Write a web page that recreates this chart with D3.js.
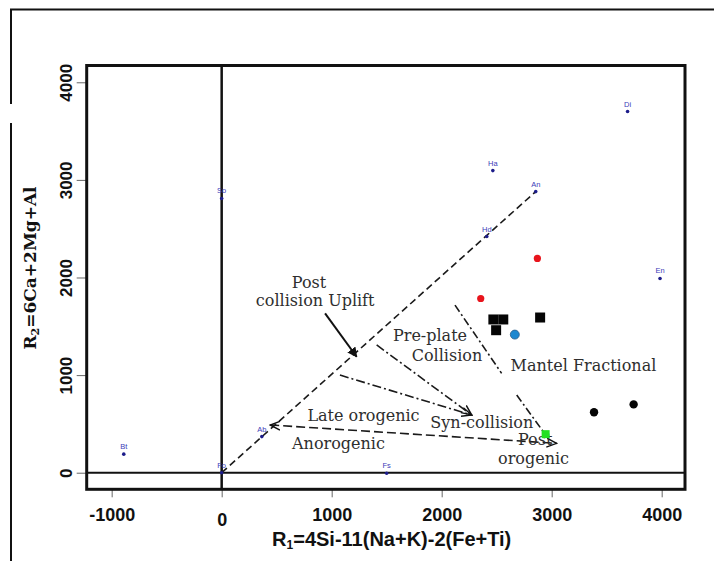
<!DOCTYPE html>
<html><head><meta charset="utf-8">
<script src="https://cdn.jsdelivr.net/npm/d3@7/dist/d3.min.js"></script>
<style>body{margin:0;background:#fff}svg{display:block}</style>
</head><body>
<svg id="chart" width="714" height="561"></svg>
<script>
// ---- data ----
const xTicks = [-1000, 0, 1000, 2000, 3000, 4000];
const yTicks = [0, 1000, 2000, 3000, 4000];

const minerals   = ["Di", "Ha", "An", "Hd", "En", "So", "Ab", "Bt", "Fo", "Fs"];
const mineralR1  = [3690, 2465, 2855, 2410, 3985, 0, 365, -890, 0, 1500];
const mineralR2  = [3700, 3095, 2880, 2420, 1990, 2810, 370, 190, 0, -5];

const redR1 = [2870, 2355];
const redR2 = [2195, 1785];
const squareR1 = [2470, 2560, 2495, 2895];
const squareR2 = [1570, 1570, 1460, 1590];
const blueR1 = [2665];
const blueR2 = [1415];
const blackR1 = [3385, 3745];
const blackR2 = [620, 700];
const greenR1 = [2945];
const greenR2 = [395];

// boundary lines [R1,R2] pairs
const lineUplift   = [[0, 0], [2855, 2880]];
const lineLateTop  = [[1075, 1000], [2273, 591]];
const linePreLow   = [[1409, 1309], [2273, 591]];
const lineAnoro    = [[441, 489], [3045, 301]];
const lineMantleA  = [[2121, 1717], [2545, 1018]];
const lineMantleB  = [[2682, 796], [2966, 355]];
const arrowUplift  = [[940, 1633], [1227, 1188]];

const fieldNames = ["Post", "collision Uplift", "Pre-plate", "Collision", "Mantel Fractional",
                    "Late orogenic", "Syn-collision", "Anorogenic", "Post", "orogenic"];
const fieldR1 = [794, 850, 1894, 2048, 3289, 1289, 2365, 1062, 2850, 2835];
const fieldR2 = [1890, 1705, 1349, 1145, 1042, 530, 462, 243, 283, 85];

// ---- chart ----
const svg = d3.select("#chart");
const L = 86.7, R = 685, T = 65.5, B = 489.3;
const x = d3.scaleLinear().domain([-1227, 4212]).range([L, R]);
const y = d3.scaleLinear().domain([-170, 4172]).range([B, T]);

// outer frame fragments
svg.append("line").attr("x1", 10).attr("x2", 714).attr("y1", 9.5).attr("y2", 9.5)
   .attr("stroke", "#111").attr("stroke-width", 2);
svg.append("line").attr("x1", 11).attr("x2", 11).attr("y1", 9).attr("y2", 104)
   .attr("stroke", "#111").attr("stroke-width", 2);
svg.append("line").attr("x1", 11).attr("x2", 11).attr("y1", 123).attr("y2", 561)
   .attr("stroke", "#111").attr("stroke-width", 2);

const defs = svg.append("defs");
defs.append("marker").attr("id", "open").attr("viewBox", "0 0 10 10")
  .attr("refX", 9).attr("refY", 5).attr("markerWidth", 7).attr("markerHeight", 7)
  .attr("orient", "auto-start-reverse")
  .append("path").attr("d", "M0,1 L9,5 L0,9").attr("fill", "none").attr("stroke", "#111").attr("stroke-width", 1.3);
defs.append("marker").attr("id", "solid").attr("viewBox", "0 0 10 10")
  .attr("refX", 9).attr("refY", 5).attr("markerWidth", 5).attr("markerHeight", 5)
  .attr("orient", "auto")
  .append("path").attr("d", "M0,0 L10,5 L0,10 Z").attr("fill", "#111");

// axes
const xAxis = svg.append("g").attr("transform", `translate(0,${B})`)
  .call(d3.axisBottom(x).tickValues(xTicks).tickSize(8).tickPadding(11).tickFormat(d => String(d)));
xAxis.select(".domain").remove();
xAxis.selectAll("line").attr("stroke", "#666").attr("stroke-width", 1);
xAxis.selectAll("text").attr("font-family", "Liberation Sans, Arial, sans-serif")
  .attr("font-weight", "bold").attr("font-size", 18).attr("fill", "#111")
  .attr("dy", d => d === 0 ? "1.0em" : "0.71em");

const yAxis = svg.append("g").attr("transform", `translate(${L},0)`)
  .call(d3.axisLeft(y).tickValues(yTicks).tickSize(10).tickPadding(4).tickFormat(d => String(d)));
yAxis.select(".domain").remove();
yAxis.selectAll("line").attr("stroke", "#666").attr("stroke-width", 1);
yAxis.selectAll("text").attr("font-family", "Liberation Sans, Arial, sans-serif")
  .attr("font-weight", "bold").attr("font-size", 17).attr("fill", "#111")
  .attr("text-anchor", "middle")
  .attr("transform", "translate(-21,0) rotate(-90)").attr("x", 0).attr("y", 0).attr("dy", "0.35em");

// zero lines
svg.append("line").attr("x1", x(0)).attr("x2", x(0)).attr("y1", T).attr("y2", B)
  .attr("stroke", "#111").attr("stroke-width", 2.5);
svg.append("line").attr("x1", L).attr("x2", R).attr("y1", y(0)).attr("y2", y(0))
  .attr("stroke", "#111").attr("stroke-width", 2);

// frame
svg.append("rect").attr("x", L).attr("y", T).attr("width", R - L).attr("height", B - T)
  .attr("fill", "none").attr("stroke", "#111").attr("stroke-width", 3);

// axis titles
const xt = svg.append("text").attr("x", (x(0) + x(4000)) / 2 - 50).attr("y", 546)
  .attr("text-anchor", "middle").attr("font-family", "Liberation Sans, Arial, sans-serif")
  .attr("font-weight", "bold").attr("font-size", 20).attr("fill", "#111");
xt.append("tspan").text("R");
xt.append("tspan").text("1").attr("font-size", 12).attr("dy", 3);
xt.append("tspan").text("=4Si-11(Na+K)-2(Fe+Ti)").attr("dy", -3);

const yt = svg.append("text").attr("transform", "translate(36,268) rotate(-90)")
  .attr("text-anchor", "middle").attr("font-family", "DejaVu Serif, serif")
  .attr("font-weight", "bold").attr("font-size", 17).attr("fill", "#111");
yt.append("tspan").text("R");
yt.append("tspan").text("2").attr("font-size", 11).attr("dy", 3);
yt.append("tspan").text("=6Ca+2Mg+Al").attr("dy", -3);

// boundary lines
const ln = d3.line().x(d => x(d[0])).y(d => y(d[1]));
function drawLine(pts, dash, ms, me) {
  const p = svg.append("path").attr("d", ln(pts)).attr("fill", "none")
    .attr("stroke", "#1a1a1a").attr("stroke-width", 1.6).attr("stroke-dasharray", dash);
  if (ms) p.attr("marker-start", ms);
  if (me) p.attr("marker-end", me);
}
drawLine(lineUplift, "7,4");
drawLine(lineLateTop, "9,3,2,3", null, "url(#open)");
drawLine(linePreLow, "9,3,2,3", null, "url(#open)");
drawLine(lineAnoro, "9,4", "url(#open)", "url(#open)");
drawLine(lineMantleA, "8,3,2,3");
drawLine(lineMantleB, "8,3,2,3");

svg.append("path").attr("d", ln(arrowUplift)).attr("fill", "none")
  .attr("stroke", "#111").attr("stroke-width", 2).attr("marker-end", "url(#solid)");

// field labels
svg.append("g").selectAll("text").data(fieldNames).join("text")
  .attr("x", (d, i) => x(fieldR1[i])).attr("y", (d, i) => y(fieldR2[i]))
  .attr("text-anchor", "middle").attr("font-family", "DejaVu Serif, serif")
  .attr("font-size", 16).attr("fill", "#2e2e2e").text(d => d);

// reference minerals
const mg = svg.append("g");
minerals.forEach((m, i) => {
  mg.append("circle").attr("cx", x(mineralR1[i])).attr("cy", y(mineralR2[i])).attr("r", 1.8)
    .attr("fill", "#1c1c8a");
  mg.append("text").attr("x", x(mineralR1[i])).attr("y", y(mineralR2[i]) - 5)
    .attr("text-anchor", "middle").attr("font-family", "Liberation Sans, Arial, sans-serif")
    .attr("font-size", 7.5).attr("fill", "#3b3bb8").text(m);
});

// samples
svg.append("g").selectAll("circle").data(redR1).join("circle")
  .attr("cx", d => x(d)).attr("cy", (d, i) => y(redR2[i])).attr("r", 3.6).attr("fill", "#e8141c");
svg.append("g").selectAll("rect").data(squareR1).join("rect")
  .attr("x", d => x(d) - 5).attr("y", (d, i) => y(squareR2[i]) - 5)
  .attr("width", 10).attr("height", 10).attr("fill", "#050505");
svg.append("g").selectAll("circle").data(blueR1).join("circle")
  .attr("cx", d => x(d)).attr("cy", (d, i) => y(blueR2[i])).attr("r", 4.5)
  .attr("fill", "#1e88d0").attr("stroke", "#2a5d8a").attr("stroke-width", 0.8);
svg.append("g").selectAll("circle").data(blackR1).join("circle")
  .attr("cx", d => x(d)).attr("cy", (d, i) => y(blackR2[i])).attr("r", 4.2).attr("fill", "#050505");
svg.append("g").selectAll("rect").data(greenR1).join("rect")
  .attr("x", d => x(d) - 4).attr("y", (d, i) => y(greenR2[i]) - 4)
  .attr("width", 8).attr("height", 8).attr("fill", "#22e022");
</script>
</body></html>
